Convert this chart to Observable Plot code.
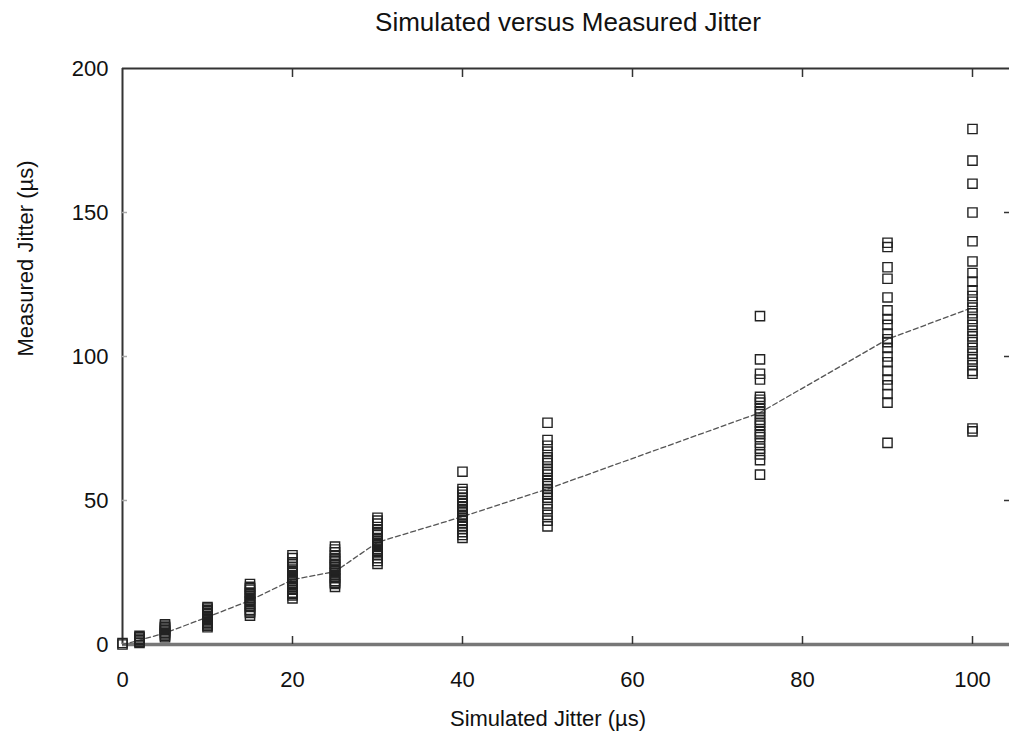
<!DOCTYPE html>
<html>
<head>
<meta charset="utf-8">
<script src="https://cdn.jsdelivr.net/npm/d3@7"></script>
<script src="https://cdn.jsdelivr.net/npm/@observablehq/plot@0.6"></script>
<style>
  html, body { margin: 0; padding: 0; background: #fff; }
  #chart svg { display: block; }
</style>
</head>
<body>
<div id="chart"></div>
<script>
// Simulated jitter levels (µs) and measured jitter samples (µs) for each level
const simulated = [0, 2, 5, 10, 15, 20, 25, 30, 40, 50, 75, 90, 100];
const measured0 = [0, 0.5];
const measured2 = [3, 2.5, 2, 1.5, 1, 0.5];
const measured5 = [7, 6.5, 6, 5.5, 5, 4.5, 4, 3.5, 3, 2.5];
const measured10 = [13, 12.5, 12, 11.5, 11, 10.5, 10, 9.5, 9, 8.5, 8, 7.5, 7, 6.5, 6];
const measured15 = [21, 20, 19.5, 19, 18, 17.5, 17, 16, 15.5, 15, 14, 13.5, 13, 12, 11.5, 11, 10];
const measured20 = [31, 30, 28.5, 28, 27, 26, 25.5, 25, 24, 23.5, 23, 22, 21.5, 21, 20, 19.5, 19, 18, 17.5, 17, 16];
const measured25 = [34, 33, 32, 31, 30, 29.5, 29, 28, 27.5, 27, 26, 25.5, 25, 24, 23.5, 23, 22, 21.5, 21, 20];
const measured30 = [44, 43, 42, 40, 39, 38.5, 38, 37, 36.5, 36, 35, 34.5, 34, 33, 32.5, 32, 31, 30, 29, 28];
const measured40 = [60, 54, 53, 52, 51, 50, 49, 48, 47, 46.5, 46, 45, 44.5, 44, 43, 42, 41, 40, 39, 38, 37];
const measured50 = [77, 71, 69, 67, 65, 64, 63, 61, 60, 59, 57, 56, 55, 54, 53, 52, 51, 49, 47, 45, 43, 41];
const measured75 = [114, 99, 94, 92, 86, 85, 84, 82, 81, 80, 78, 77, 76, 74, 73, 72, 70, 68, 66, 64, 59];
const measured90 = [139.5, 138, 131, 127, 120.5, 116, 113, 111, 108, 106, 105, 103, 100, 98, 95, 92, 90, 87, 84, 70];
const measured100 = [179, 168, 160, 150, 140, 133, 129, 126, 123, 121, 119, 117, 115, 113, 111, 109, 107, 105, 103, 101, 99, 97, 95, 94, 75, 74];
// Mean measured jitter at each simulated level (dashed line)
const meanMeasured = [0, 1.5, 4, 9.5, 15.3, 22.5, 25.3, 35.5, 44.4, 54, 80.5, 106, 117];
// Axis ticks
const xTicks = [0, 20, 40, 60, 80, 100];
const yTicks = [0, 50, 100, 150, 200];

const groups = [measured0, measured2, measured5, measured10, measured15, measured20, measured25,
  measured30, measured40, measured50, measured75, measured90, measured100];
const points = groups.flatMap((vals, i) => vals.map(v => ({x: simulated[i], y: v})));
const means = simulated.map((s, i) => ({x: s, y: meanMeasured[i]}));

const font = "'Liberation Sans', Arial, Helvetica, sans-serif";
const W = 1009, H = 737;
const mL = 122, mR = 0, mT = 68, mB = 93;
const pxPerUnit = 8.5;
const xMax = (W - mL - mR) / pxPerUnit;

const chart = Plot.plot({
  width: W,
  height: H,
  marginLeft: mL,
  marginRight: mR,
  marginTop: mT,
  marginBottom: mB,
  style: {fontFamily: font, fontSize: "22px", color: "#111", background: "#fff"},
  x: {domain: [0, xMax], ticks: xTicks},
  y: {domain: [0, 200], ticks: yTicks},
  marks: [
    // frame lines
    Plot.ruleY([200], {stroke: "#333", strokeWidth: 2}),
    Plot.ruleX([0], {stroke: "#333", strokeWidth: 2}),
    Plot.ruleY([0], {stroke: "#777", strokeWidth: 3.5}),
    // inward ticks
    Plot.axisX(xTicks.slice(1), {anchor: "bottom", tickSize: -8, text: null, stroke: "#333", strokeWidth: 1.5, label: null}),
    Plot.axisX(xTicks.slice(1), {anchor: "top", tickSize: -8, text: null, stroke: "#333", strokeWidth: 1.5, label: null}),
    Plot.axisY(yTicks.slice(1, 4), {anchor: "left", tickSize: -5, text: null, stroke: "#aaa", strokeWidth: 1.5, label: null}),
    Plot.axisY(yTicks.slice(1, 4), {anchor: "right", tickSize: -6, text: null, stroke: "#333", strokeWidth: 1.5, label: null}),
    // tick labels
    Plot.axisX(xTicks, {anchor: "bottom", tickSize: 0, tickPadding: 27, label: null, fontSize: 22, fill: "#111"}),
    Plot.axisY(yTicks, {anchor: "left", tickSize: 0, tickPadding: 14, label: null, fontSize: 22, fill: "#111"}),
    // data
    Plot.line(means, {x: "x", y: "y", stroke: "#555", strokeWidth: 1.3, strokeDasharray: "5,3"}),
    Plot.dot(points, {x: "x", y: "y", symbol: "square", r: 5.2, stroke: "#222", strokeWidth: 1.4, fill: "none"}),
    // titles
    Plot.text(["Simulated versus Measured Jitter"], {frameAnchor: "top", lineAnchor: "middle", dy: -46, dx: 2, fontSize: 26, fill: "#111"}),
    Plot.text(["Simulated Jitter (µs)"], {frameAnchor: "bottom", lineAnchor: "middle", dy: 74, dx: -18, fontSize: 22, fill: "#111"}),
    Plot.text(["Measured Jitter (µs)"], {frameAnchor: "left", lineAnchor: "middle", dx: -97, rotate: -90, fontSize: 22, fill: "#111"})
  ]
});
document.getElementById("chart").append(chart);
</script>
</body>
</html>
